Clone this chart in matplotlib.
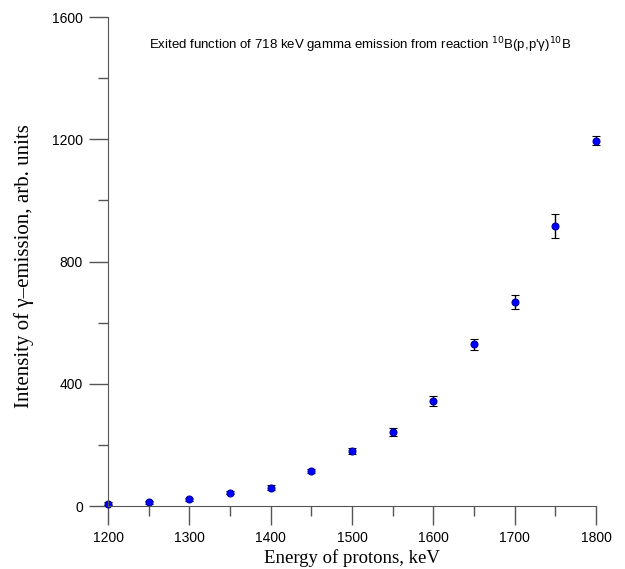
import matplotlib.pyplot as plt
from matplotlib import font_manager
from matplotlib.ticker import MultipleLocator

# energy of protons, keV
energia = [1200, 1250, 1300, 1350, 1400, 1450, 1500, 1550, 1600, 1650, 1700, 1750, 1800]
# intensity, arb. units
intensidad = [8, 12, 22, 44, 60, 115, 180, 242, 344, 530, 668, 917, 1195]
error = [4, 4, 4, 5, 8, 6, 9, 12, 16, 18, 23, 40, 15]

# buscar el archivo de Liberation Sans normal (no Narrow)
sans_file = None
for f in font_manager.findSystemFonts():
    if f.endswith('LiberationSans-Regular.ttf'):
        sans_file = f
sans = font_manager.FontProperties(fname=sans_file) if sans_file else font_manager.FontProperties(family='DejaVu Sans')

if sans_file:
    font_manager.fontManager.addfont(sans_file)
plt.rcParams['mathtext.fontset'] = 'custom'
plt.rcParams['mathtext.rm'] = sans.get_name()

fig = plt.figure(figsize=(6.25, 5.69), dpi=100)
ax = fig.add_axes([0.1728, 0.1107, 0.7808, 0.8593])

ax.errorbar(energia, intensidad, yerr=error, fmt='o', color='blue', markersize=5,
            markeredgecolor='#0000aa', markeredgewidth=0.8,
            ecolor='black', elinewidth=1, capsize=3, capthick=1)

ax.set_xlim(1200, 1800)
ax.set_ylim(0, 1600)
ax.xaxis.set_major_locator(MultipleLocator(100))
ax.xaxis.set_minor_locator(MultipleLocator(50))
ax.yaxis.set_major_locator(MultipleLocator(400))
ax.yaxis.set_minor_locator(MultipleLocator(200))

ax.spines['top'].set_visible(False)
ax.spines['right'].set_visible(False)
for s in ['left', 'bottom']:
    ax.spines[s].set_color('#555555')
ax.tick_params(which='major', direction='out', length=14, width=1, color='#555555')
ax.tick_params(which='minor', direction='out', length=7, width=1, color='#555555')
ax.tick_params(pad=4)
for lab in ax.get_xticklabels() + ax.get_yticklabels():
    lab.set_fontproperties(sans)
    lab.set_fontsize(10)

ax.set_xlabel('Energy of protons, keV', family='Liberation Serif', fontsize=13.5, labelpad=0)
ax.xaxis.set_label_coords(0.5, -0.088)
ax.set_ylabel('Intensity of γ–emission, arb. units', family='Liberation Serif', fontsize=15)
ax.yaxis.set_label_coords(-0.152, 0.49)

t = ax.text(0.085, 0.935, "Exited function of 718 keV gamma emission from reaction $^{10}$B(p,p'γ)$^{10}$B",
            transform=ax.transAxes, fontproperties=sans)
t.set_fontsize(9.5)

for c in ax.get_children():
    c.set_clip_on(False)

plt.savefig('out.png')
